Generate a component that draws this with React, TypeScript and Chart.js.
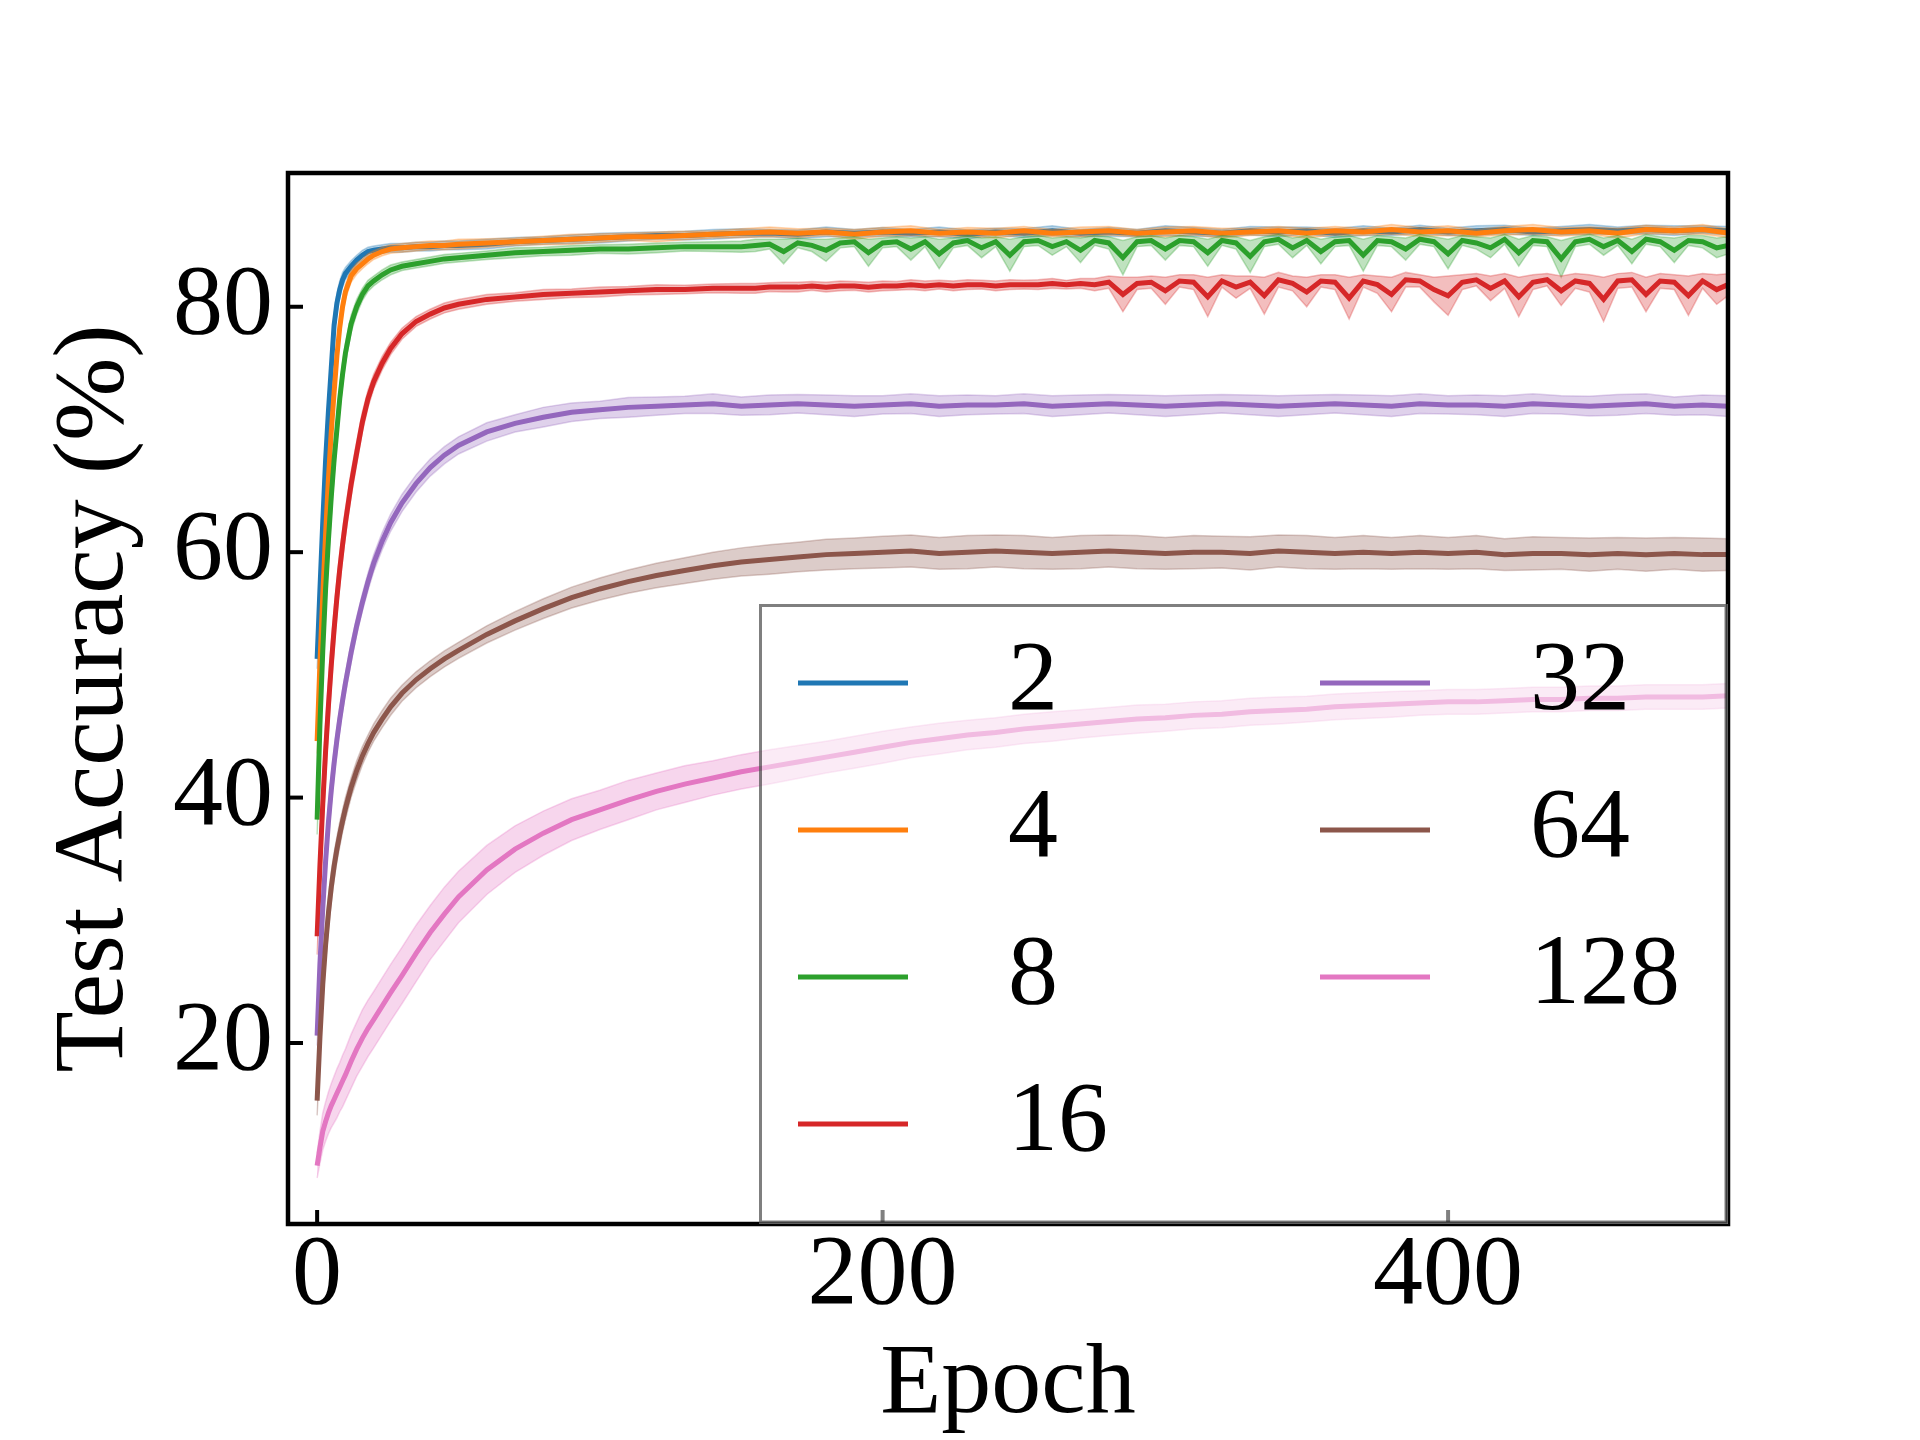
import Chart from 'chart.js/auto';
import { useEffect, useRef } from 'react';

const epochs = [
  0, 1, 2, 3, 4, 5, 6, 7, 8, 9, 10, 12, 14, 16, 18, 20, 23, 26, 30, 35, 40, 45,
  50, 60, 70, 80, 90, 100, 110, 120, 130, 140, 150, 160, 170, 180, 190, 200,
  210, 220, 230, 240, 250, 260, 270, 280, 290, 300, 310, 320, 330, 340, 350,
  360, 370, 380, 390, 400, 410, 420, 430, 440, 450, 460, 470, 480, 490, 499,
];
// finer grid for the two spiky curves (8 and 16)
const epochsFine = [
  0, 1, 2, 3, 4, 5, 6, 7, 8, 9, 10, 12, 14, 16, 18, 20, 23, 26, 30, 35, 40, 45,
  50, 60, 70, 80, 90, 100, 110, 120, 130, 140, 150,
  155, 160, 165, 170, 175, 180, 185, 190, 195, 200, 205, 210, 215, 220, 225,
  230, 235, 240, 245, 250, 255, 260, 265, 270, 275, 280, 285, 290, 295, 300,
  305, 310, 315, 320, 325, 330, 335, 340, 345, 350, 355, 360, 365, 370, 375,
  380, 385, 390, 395, 400, 405, 410, 415, 420, 425, 430, 435, 440, 445, 450,
  455, 460, 465, 470, 475, 480, 485, 490, 495, 499,
];

// mean test accuracy (%) per number of clients
const acc2 = [
  51.3, 57.0, 62.5, 67.5, 71.5, 75.0, 78.5, 80.3, 81.4, 82.2, 82.7,
  83.3, 83.8, 84.2, 84.5, 84.6, 84.7, 84.8, 84.8, 84.9, 84.9, 85.0,
  85.0, 85.1, 85.3, 85.4, 85.5, 85.6, 85.7, 85.8, 85.8, 85.9, 86.0,
  86.0, 85.9, 86.1, 86.0, 86.1, 86.0, 86.1, 85.9, 86.1, 86.0, 86.2, 86.0,
  86.1, 86.0, 86.2, 86.1, 86.0, 86.2, 86.1, 86.2, 86.0, 86.2, 86.1, 86.3,
  86.1, 86.2, 86.3, 86.1, 86.2, 86.3, 86.2, 86.3, 86.2, 86.3, 86.2,
];
const acc4 = [
  44.6, 51.0, 56.5, 61.5, 66.0, 69.8, 73.0, 76.0, 78.3, 80.0, 81.2,
  82.5, 83.1, 83.5, 83.9, 84.2, 84.5, 84.7, 84.8, 84.9, 85.0, 85.0,
  85.1, 85.2, 85.3, 85.4, 85.5, 85.6, 85.7, 85.7, 85.8, 85.9, 86.0,
  86.1, 86.0, 86.1, 85.9, 86.1, 86.2, 86.0, 86.1, 86.0, 86.2, 86.0, 86.1,
  86.2, 86.0, 86.1, 86.2, 86.0, 86.1, 86.2, 86.0, 86.2, 86.1, 86.3, 86.1,
  86.2, 86.0, 86.2, 86.3, 86.1, 86.2, 86.0, 86.3, 86.2, 86.3, 86.0,
];
const acc8 = [
  38.2, 46.0, 52.0, 57.0, 61.0, 64.5, 67.5, 70.0, 72.5, 74.5, 76.2,
  78.6, 80.0, 81.0, 81.7, 82.1, 82.6, 83.0, 83.3, 83.5, 83.7, 83.9,
  84.0, 84.2, 84.4, 84.5, 84.6, 84.7, 84.7, 84.8, 84.9, 84.9, 84.9,
  85.0, 85.1, 84.5, 85.2, 85.0, 84.6, 85.2, 85.3, 84.4, 85.2,
  85.3, 84.7, 85.3, 84.3, 85.2, 85.4, 84.8, 85.3, 84.2, 85.3,
  85.4, 84.9, 85.3, 84.6, 85.4, 85.2, 84.0, 85.3, 85.4, 84.7,
  85.4, 85.3, 84.4, 85.4, 85.2, 84.1, 85.3, 85.5, 84.8, 85.4,
  84.5, 85.3, 85.4, 84.2, 85.4, 85.3, 84.7, 85.5, 85.3, 84.3,
  85.4, 85.2, 84.8, 85.5, 84.4, 85.4, 85.3, 83.9, 85.3, 85.5,
  84.9, 85.4, 84.5, 85.5, 85.3, 84.6, 85.4, 85.3, 84.8, 85.0,
];
const acc16 = [
  28.7, 34.5, 39.5, 43.8, 47.5, 50.8, 53.7, 56.3, 58.6, 60.6, 62.4,
  65.5, 68.1, 70.6, 72.5, 73.9, 75.4, 76.6, 77.8, 78.8, 79.4, 79.9,
  80.2, 80.6, 80.8, 81.0, 81.1, 81.2, 81.3, 81.4, 81.4, 81.5, 81.5,
  81.5, 81.6, 81.6, 81.6, 81.7, 81.6, 81.7, 81.7, 81.6, 81.7,
  81.7, 81.8, 81.7, 81.8, 81.7, 81.8, 81.8, 81.7, 81.8, 81.8,
  81.8, 81.9, 81.8, 81.9, 81.8, 82.0, 81.0, 81.9, 82.0, 81.3,
  82.1, 82.0, 80.8, 82.1, 81.6, 82.0, 80.9, 82.2, 81.9, 81.2,
  82.1, 82.0, 80.7, 82.1, 81.8, 81.0, 82.2, 82.1, 81.4, 80.9,
  82.0, 82.2, 81.5, 82.1, 80.8, 82.0, 82.2, 81.3, 82.1, 81.9,
  80.6, 82.1, 82.2, 81.0, 82.1, 82.0, 80.9, 82.1, 81.4, 81.8,
];
const acc32 = [
  20.6, 26.5, 31.0, 34.8, 38.0, 40.6, 42.8, 44.7, 46.4, 47.9, 49.3,
  51.8, 54.0, 55.9, 57.6, 59.1, 60.9, 62.4, 64.0, 65.6, 66.9, 67.9,
  68.7, 69.8, 70.5, 71.0, 71.4, 71.6, 71.8, 71.9, 72.0, 72.1, 71.9,
  72.0, 72.1, 72.0, 71.9, 72.0, 72.1, 71.9, 72.0, 72.0, 72.1, 71.9, 72.0,
  72.1, 72.0, 71.9, 72.0, 72.1, 72.0, 71.9, 72.0, 72.1, 72.0, 71.9, 72.1,
  72.0, 72.0, 71.9, 72.1, 72.0, 71.9, 72.0, 72.1, 71.9, 72.0, 71.9,
];
const acc64 = [
  15.3, 20.5, 24.8, 28.0, 30.6, 32.7, 34.4, 35.8, 37.0, 38.1, 39.1,
  40.8, 42.2, 43.4, 44.4, 45.3, 46.4, 47.4, 48.5, 49.6, 50.5, 51.3,
  52.0, 53.3, 54.4, 55.4, 56.3, 57.0, 57.6, 58.1, 58.5, 58.9, 59.2,
  59.4, 59.6, 59.8, 59.9, 60.0, 60.1, 59.9, 60.0, 60.1, 60.0, 59.9, 60.0,
  60.1, 60.0, 59.9, 60.0, 60.0, 59.9, 60.1, 60.0, 59.9, 60.0, 59.9, 60.0,
  59.9, 60.0, 59.8, 59.9, 59.9, 59.8, 59.9, 59.8, 59.9, 59.8, 59.8,
];
const acc128 = [
  10.0, 11.5, 12.8, 13.6, 14.3, 14.9, 15.4, 15.9, 16.4, 16.9, 17.4,
  18.5, 19.5, 20.4, 21.2, 21.9, 23.0, 24.1, 25.5, 27.3, 29.0, 30.5,
  31.9, 34.1, 35.8, 37.1, 38.2, 39.0, 39.8, 40.5, 41.1, 41.6, 42.1,
  42.5, 42.9, 43.3, 43.7, 44.1, 44.5, 44.8, 45.1, 45.3, 45.6, 45.8, 46.0,
  46.2, 46.4, 46.5, 46.7, 46.8, 47.0, 47.1, 47.2, 47.4, 47.5, 47.6, 47.7,
  47.8, 47.8, 47.9, 48.0, 48.0, 48.1, 48.1, 48.2, 48.2, 48.2, 48.3,
];

// half-width of the shaded band (std over runs)
const sd2 = [
  0.8, 1.4, 1.6, 1.5, 1.3, 1.1, 0.9, 0.8, 0.7, 0.6, 0.5,
  0.45, 0.4, 0.4, 0.35, 0.35, 0.35, 0.35, 0.35, 0.35, 0.35, 0.35,
  0.35, 0.4, 0.35, 0.3, 0.35, 0.4, 0.35, 0.3, 0.35, 0.4, 0.35,
  0.3, 0.35, 0.4, 0.3, 0.35, 0.3, 0.4, 0.35, 0.3, 0.35, 0.4, 0.3,
  0.35, 0.3, 0.4, 0.35, 0.3, 0.35, 0.4, 0.3, 0.35, 0.4, 0.3, 0.35,
  0.3, 0.4, 0.35, 0.3, 0.35, 0.4, 0.3, 0.35, 0.4, 0.3, 0.35,
];
const sd4 = [
  1.0, 1.5, 1.7, 1.6, 1.4, 1.2, 1.0, 0.9, 0.8, 0.7, 0.6,
  0.5, 0.45, 0.4, 0.4, 0.35, 0.35, 0.35, 0.35, 0.35, 0.35, 0.35,
  0.4, 0.35, 0.3, 0.35, 0.4, 0.35, 0.3, 0.4, 0.35, 0.3, 0.35,
  0.4, 0.35, 0.3, 0.4, 0.35, 0.4, 0.3, 0.35, 0.4, 0.35, 0.3, 0.4,
  0.35, 0.3, 0.4, 0.35, 0.4, 0.3, 0.35, 0.4, 0.35, 0.3, 0.4, 0.35,
  0.4, 0.3, 0.35, 0.4, 0.35, 0.3, 0.4, 0.35, 0.3, 0.4, 0.35,
];
const sd8 = [
  1.2, 1.8, 2.0, 1.9, 1.7, 1.5, 1.3, 1.1, 1.0, 0.9, 0.8,
  0.7, 0.6, 0.5, 0.45, 0.4, 0.4, 0.4, 0.35, 0.35, 0.35, 0.35,
  0.35, 0.35, 0.4, 0.35, 0.4, 0.35, 0.4, 0.4, 0.35, 0.4, 0.45,
  0.5, 0.4, 1.0, 0.4, 0.5, 0.9, 0.4, 0.4, 1.1, 0.4,
  0.4, 0.9, 0.4, 1.2, 0.4, 0.4, 0.8, 0.4, 1.3, 0.4,
  0.4, 0.7, 0.4, 1.0, 0.4, 0.5, 1.4, 0.4, 0.4, 0.9,
  0.4, 0.4, 1.1, 0.4, 0.5, 1.3, 0.4, 0.4, 0.8, 0.4,
  1.0, 0.4, 0.4, 1.3, 0.4, 0.4, 0.9, 0.4, 0.4, 1.2,
  0.4, 0.5, 0.8, 0.4, 1.1, 0.4, 0.4, 1.5, 0.4, 0.4,
  0.7, 0.4, 1.0, 0.4, 0.4, 1.0, 0.4, 0.5, 0.8, 0.7,
];
const sd16 = [
  1.5, 2.0, 2.2, 2.2, 2.0, 1.8, 1.6, 1.4, 1.3, 1.2, 1.1,
  1.0, 0.9, 0.8, 0.7, 0.6, 0.55, 0.5, 0.45, 0.4, 0.4, 0.4,
  0.4, 0.4, 0.35, 0.4, 0.35, 0.4, 0.35, 0.4, 0.35, 0.35, 0.4,
  0.4, 0.35, 0.4, 0.4, 0.35, 0.4, 0.4, 0.35, 0.4, 0.4,
  0.35, 0.4, 0.4, 0.35, 0.4, 0.4, 0.35, 0.4, 0.4, 0.35,
  0.4, 0.4, 0.35, 0.4, 0.5, 0.5, 1.4, 0.5, 0.5, 1.1,
  0.5, 0.6, 1.6, 0.5, 0.9, 0.5, 1.5, 0.6, 0.6, 1.2,
  0.5, 0.6, 1.7, 0.5, 0.7, 1.4, 0.6, 0.5, 1.0, 1.6,
  0.6, 0.5, 1.0, 0.6, 1.6, 0.6, 0.5, 1.2, 0.6, 0.7,
  1.8, 0.6, 0.6, 1.4, 0.6, 0.6, 1.6, 0.6, 1.2, 0.9,
];
const sd32 = [
  0.8, 1.2, 1.4, 1.4, 1.3, 1.2, 1.1, 1.0, 0.9, 0.9, 0.8,
  0.8, 0.7, 0.7, 0.7, 0.7, 0.7, 0.7, 0.7, 0.7, 0.7, 0.7,
  0.7, 0.75, 0.7, 0.8, 0.75, 0.7, 0.8, 0.75, 0.7, 0.8, 0.75,
  0.8, 0.75, 0.8, 0.85, 0.75, 0.8, 0.85, 0.8, 0.75, 0.8, 0.85, 0.8,
  0.75, 0.8, 0.85, 0.8, 0.75, 0.8, 0.85, 0.8, 0.75, 0.8, 0.85, 0.8,
  0.75, 0.8, 0.85, 0.8, 0.75, 0.8, 0.85, 0.8, 0.75, 0.8, 0.85,
];
const sd64 = [
  1.2, 1.5, 1.5, 1.4, 1.3, 1.2, 1.1, 1.0, 1.0, 0.9, 0.9,
  0.8, 0.8, 0.75, 0.7, 0.7, 0.7, 0.7, 0.65, 0.65, 0.65, 0.65,
  0.65, 0.7, 0.75, 0.8, 0.85, 0.9, 0.95, 1.0, 1.05, 1.1, 1.15,
  1.2, 1.2, 1.25, 1.25, 1.3, 1.3, 1.3, 1.35, 1.3, 1.35, 1.3, 1.35,
  1.3, 1.35, 1.3, 1.35, 1.3, 1.35, 1.3, 1.35, 1.3, 1.35, 1.3, 1.35,
  1.3, 1.35, 1.3, 1.35, 1.3, 1.35, 1.3, 1.35, 1.3, 1.35, 1.3,
];
const sd128 = [
  1.0, 1.3, 1.5, 1.6, 1.7, 1.8, 1.9, 2.0, 2.0, 2.1, 2.1,
  2.2, 2.2, 2.3, 2.3, 2.3, 2.3, 2.3, 2.3, 2.3, 2.2, 2.2,
  2.1, 2.0, 1.9, 1.8, 1.7, 1.6, 1.6, 1.5, 1.5, 1.4, 1.4,
  1.4, 1.35, 1.3, 1.3, 1.3, 1.25, 1.25, 1.2, 1.2, 1.2, 1.2, 1.15,
  1.15, 1.15, 1.1, 1.1, 1.1, 1.1, 1.1, 1.05, 1.05, 1.05, 1.05, 1.0,
  1.0, 1.0, 1.0, 1.0, 1.0, 1.0, 1.0, 1.0, 1.0, 1.0, 1.0,
];

const seriesLabels = ['2', '4', '8', '16', '32', '64', '128'];
const seriesColors = [
  '31, 119, 180',
  '255, 127, 14',
  '44, 160, 44',
  '214, 39, 40',
  '148, 103, 189',
  '140, 86, 75',
  '227, 119, 194',
];
const xValues = [epochs, epochs, epochsFine, epochsFine, epochs, epochs, epochs];
const means = [acc2, acc4, acc8, acc16, acc32, acc64, acc128];
const spreads = [sd2, sd4, sd8, sd16, sd32, sd64, sd128];

const xTicks = [0, 200, 400];
const yTicks = [20, 40, 60, 80];

const FONT = "'Liberation Serif', 'Times New Roman', serif";

// spines, inward tick marks and the half-transparent legend box
const framePlugin = {
  id: 'frame',
  afterDatasetsDraw(chart: Chart) {
    const { ctx, chartArea: a, scales } = chart;
    ctx.save();
    ctx.strokeStyle = '#000';
    ctx.lineCap = 'butt';
    ctx.lineWidth = 4;
    yTicks.forEach((v) => {
      const py = scales.y.getPixelForValue(v);
      ctx.beginPath();
      ctx.moveTo(a.left, py);
      ctx.lineTo(a.left + 15, py);
      ctx.stroke();
    });
    xTicks.forEach((v) => {
      const px = scales.x.getPixelForValue(v);
      ctx.beginPath();
      ctx.moveTo(px, a.bottom);
      ctx.lineTo(px, a.bottom - 14);
      ctx.stroke();
    });
    ctx.lineWidth = 4.5;
    ctx.strokeRect(a.left, a.top, a.right - a.left, a.bottom - a.top);

    // legend
    const box = { left: 759, top: 604, right: a.right, bottom: a.bottom };
    ctx.fillStyle = 'rgba(255, 255, 255, 0.5)';
    ctx.fillRect(box.left, box.top, box.right - box.left, box.bottom - box.top);
    ctx.strokeStyle = 'rgba(0, 0, 0, 0.5)';
    ctx.lineWidth = 3;
    ctx.strokeRect(box.left + 1.5, box.top + 1.5, box.right - box.left - 3.5, box.bottom - box.top - 3.5);

    ctx.font = `100px ${FONT}`;
    ctx.textBaseline = 'middle';
    ctx.textAlign = 'left';
    seriesLabels.forEach((label, i) => {
      const col = i < 4 ? 0 : 1;
      const row = col === 0 ? i : i - 4;
      const y = 683 + row * 147;
      const x0 = col === 0 ? 798 : 1320;
      ctx.strokeStyle = `rgb(${seriesColors[i]})`;
      ctx.lineWidth = 5;
      ctx.beginPath();
      ctx.moveTo(x0, y);
      ctx.lineTo(x0 + 110, y);
      ctx.stroke();
      ctx.fillStyle = '#000';
      ctx.fillText(label, col === 0 ? 1008 : 1530, y);
    });
    ctx.restore();
  },
};

export default function App() {
  const canvasRef = useRef<HTMLCanvasElement | null>(null);

  useEffect(() => {
    if (!canvasRef.current) return;

    const datasets: any[] = [];
    seriesLabels.forEach((label, i) => {
      const rgb = seriesColors[i];
      const xs = xValues[i];
      const mean = means[i];
      const sd = spreads[i];
      const base = (seriesLabels.length - i) * 10;
      datasets.push({
        label: `${label} upper`,
        data: xs.map((x, j) => ({ x, y: mean[j] + sd[j] })),
        borderColor: `rgba(${rgb}, 0.3)`,
        backgroundColor: `rgba(${rgb}, 0.3)`,
        borderWidth: 1.5,
        pointRadius: 0,
        fill: '+1',
        order: base + 2,
      });
      datasets.push({
        label: `${label} lower`,
        data: xs.map((x, j) => ({ x, y: mean[j] - sd[j] })),
        borderColor: `rgba(${rgb}, 0.3)`,
        borderWidth: 1.5,
        pointRadius: 0,
        fill: false,
        order: base + 2,
      });
      datasets.push({
        label,
        data: xs.map((x, j) => ({ x, y: mean[j] })),
        borderColor: `rgb(${rgb})`,
        borderWidth: 5,
        pointRadius: 0,
        fill: false,
        order: base + 1,
      });
    });

    const chart = new Chart(canvasRef.current, {
      type: 'line',
      data: { datasets },
      plugins: [framePlugin],
      options: {
        responsive: false,
        animation: false,
        events: [],
        layout: { padding: { top: 173, right: 192, bottom: 0, left: 0 } },
        plugins: {
          legend: { display: false },
          tooltip: { enabled: false },
        },
        scales: {
          x: {
            type: 'linear',
            min: -10.3,
            max: 499,
            afterBuildTicks: (scale: any) => {
              scale.ticks = xTicks.map((value) => ({ value }));
            },
            afterFit: (scale: any) => {
              scale.height = 216;
            },
            grid: { display: false, drawTicks: false },
            border: { display: false },
            ticks: {
              autoSkip: false,
              maxRotation: 0,
              padding: 3,
              color: '#000',
              font: { family: FONT, size: 100, lineHeight: 1 },
            },
            title: {
              display: true,
              text: 'Epoch',
              color: '#000',
              padding: { top: 0, bottom: 4 },
              font: { family: FONT, size: 100, lineHeight: 1 },
            },
          },
          y: {
            type: 'linear',
            min: 5.25,
            max: 90.9,
            afterBuildTicks: (scale: any) => {
              scale.ticks = yTicks.map((value) => ({ value }));
            },
            afterFit: (scale: any) => {
              scale.width = 288;
            },
            grid: { display: false, drawTicks: false },
            border: { display: false },
            ticks: {
              padding: 15,
              color: '#000',
              font: { family: FONT, size: 100, lineHeight: 1 },
            },
            title: {
              display: true,
              text: 'Test Accuracy (%)',
              color: '#000',
              padding: { top: 46, bottom: 0 },
              font: { family: FONT, size: 100, lineHeight: 1 },
            },
          },
        },
      },
    });

    return () => {
      chart.destroy();
    };
  }, []);

  return (
    <div style={{ position: 'fixed', left: 0, top: 0, width: 1920, height: 1440, background: '#fff' }}>
      <canvas ref={canvasRef} width={1920} height={1440} style={{ display: 'block' }} />
    </div>
  );
}
